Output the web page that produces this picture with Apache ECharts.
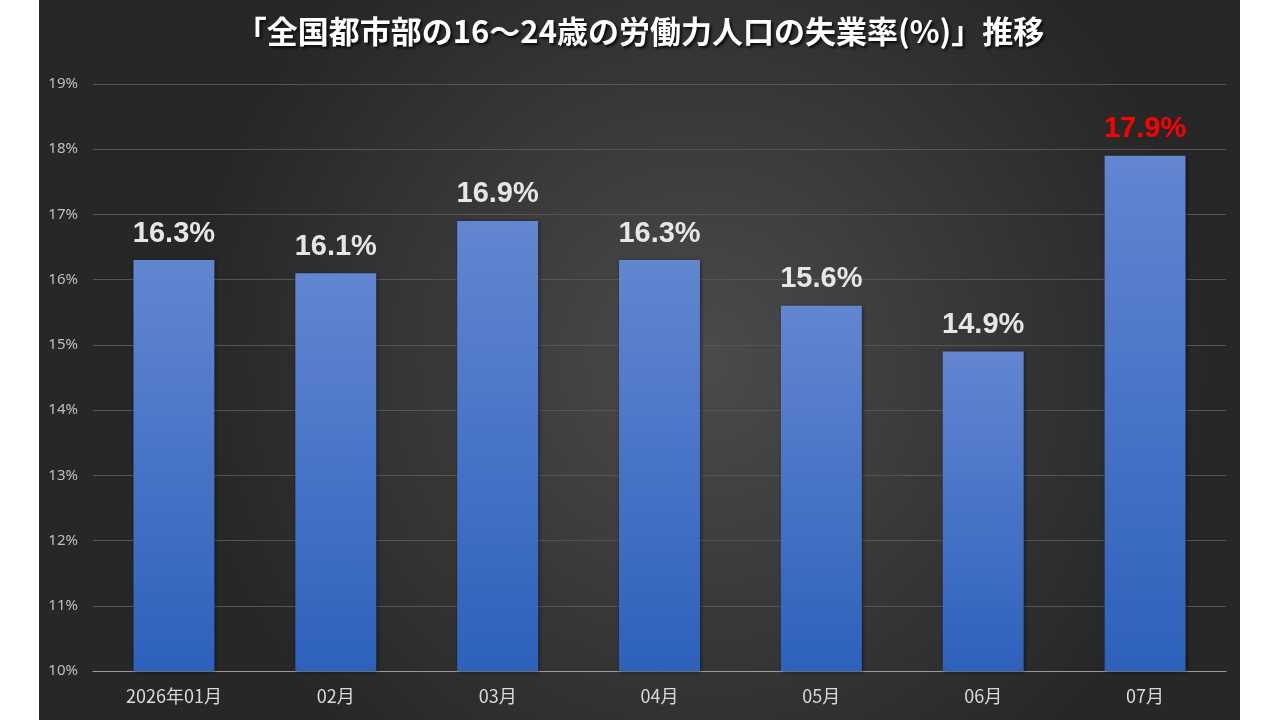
<!DOCTYPE html>
<html>
<head>
<meta charset="utf-8">
<script src="https://cdn.jsdelivr.net/npm/echarts@6/dist/echarts.min.js"></script>
<style>
  html, body { margin: 0; padding: 0; background: #ffffff; }
  #bar { width: 1280px; height: 720px; }
</style>
</head>
<body>
<div id="bar"></div>
<script>
// data
const months = ['2026年01月', '02月', '03月', '04月', '05月', '06月', '07月'];
const rates = [16.3, 16.1, 16.9, 16.3, 15.6, 14.9, 17.9];
const highlight = [false, false, false, false, false, false, true];
const yTicks = [10, 11, 12, 13, 14, 15, 16, 17, 18, 19];

const titleText = '「全国都市部の16～24歳の労働力人口の失業率(%)」推移';

let myChart = echarts.init(document.getElementById('bar'));

let barColor = new echarts.graphic.LinearGradient(0, 0, 0, 1, [
	{ offset: 0, color: '#6286d0' },
	{ offset: 1, color: '#2d61bc' }
]);

let data = rates.map((v, i) => ({
	value: v,
	label: highlight[i] ? { color: '#ff0000' } : {}
}));

myChart.setOption({
	backgroundColor: '#ffffff',
	graphic: [
		{
			type: 'rect',
			z: -10,
			silent: true,
			shape: { x: 39, y: 0, width: 1201, height: 720 },
			style: {
				fill: new echarts.graphic.RadialGradient(0.55, 0.5, 0.7, [
					{ offset: 0, color: '#4b4b4b' },
					{ offset: 1, color: '#272727' }
				])
			}
		}
	],
	title: {
		text: titleText,
		left: 'center',
		top: 11,
		textStyle: {
			color: '#ffffff',
			fontSize: 31,
			fontWeight: 'bold',
			fontFamily: 'Noto Sans CJK JP',
			textShadowColor: 'rgba(0,0,0,0.8)',
			textShadowBlur: 3,
			textShadowOffsetX: 2,
			textShadowOffsetY: 2
		}
	},
	grid: {
		left: 93,
		right: 54,
		top: 84,
		bottom: 49,
		containLabel: false
	},
	xAxis: {
		type: 'category',
		data: months,
		axisTick: { show: false },
		axisLine: { lineStyle: { color: '#9a9a9a', width: 1 } },
		axisLabel: {
			color: '#d9d9d9',
			fontSize: 18,
			margin: 16,
			fontFamily: 'Noto Sans CJK JP'
		}
	},
	yAxis: {
		type: 'value',
		min: yTicks[0],
		max: yTicks[yTicks.length - 1],
		interval: 1,
		axisLine: { show: false },
		axisTick: { show: false },
		splitLine: { lineStyle: { color: '#555555', width: 1 } },
		axisLabel: {
			color: '#bfbfbf',
			fontSize: 15,
			margin: 15,
			fontFamily: 'Noto Sans',
			formatter: '{value}%'
		}
	},
	series: [
		{
			name: '失業率',
			type: 'bar',
			barWidth: '50%',
			data: data,
			itemStyle: {
				color: barColor,
				shadowColor: 'rgba(0,0,0,0.5)',
				shadowBlur: 4,
				shadowOffsetX: 1,
				shadowOffsetY: 1
			},
			label: {
				show: true,
				position: 'top',
				distance: 12,
				color: '#e6e6e6',
				fontSize: 29,
				fontWeight: 'bold',
				fontFamily: '"Liberation Sans", sans-serif',
				formatter: p => p.value.toFixed(1) + '%'
			}
		}
	]
});
</script>
</body>
</html>
